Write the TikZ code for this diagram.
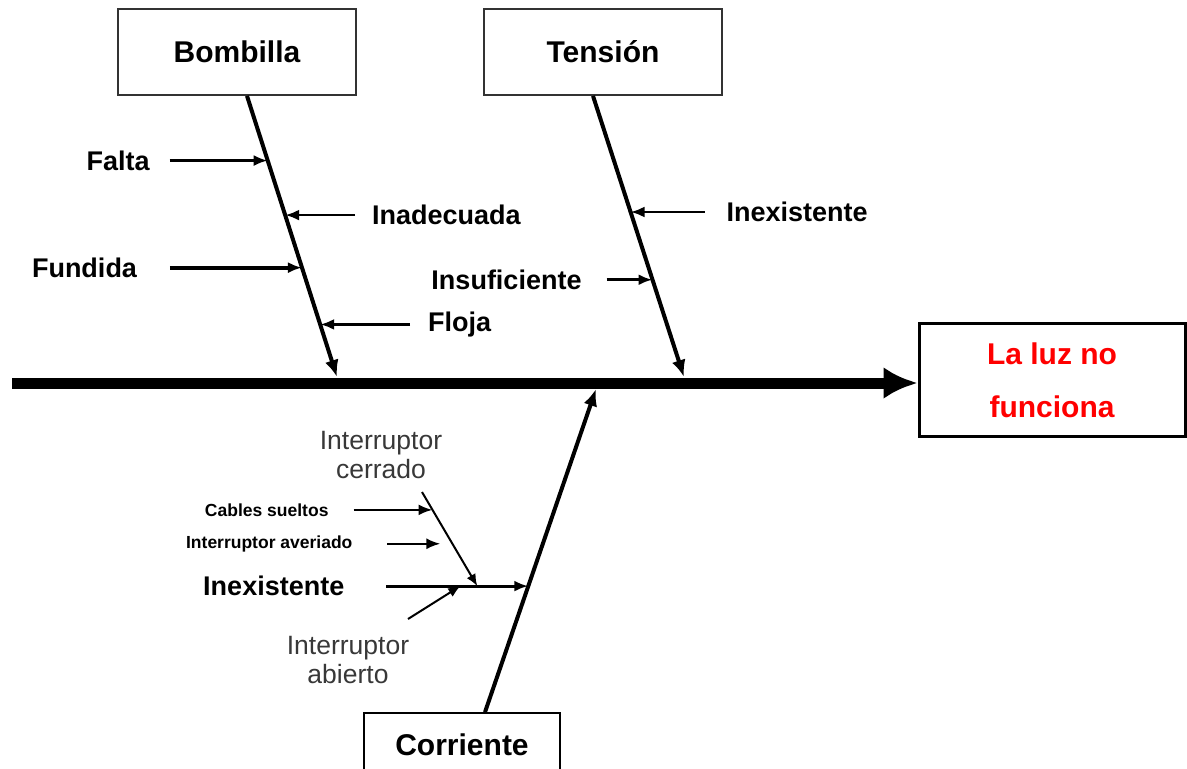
\documentclass[tikz,border=0pt]{standalone}
\usepackage{fontspec}
\setmainfont{Liberation Sans}
\usepackage{tikz}
\usetikzlibrary{arrows.meta,calc,positioning}
\tikzset{
	caja/.style={draw=black!80, line width=1.8pt, minimum width=238pt, minimum height=86pt,
		font=\fontsize{30}{36}\selectfont\bfseries},
	espina/.style={->, line width=11pt, >={Latex[length=34pt,width=32pt]}},
	hueso/.style={->, line width=4pt, >={Latex[length=17pt,width=14pt]}},
	causa/.style={->, line width=3pt, >={Latex[length=14pt,width=11pt]}},
	subcausa/.style={->, line width=2pt, >={Latex[length=12pt,width=10pt]}},
	etiq/.style={font=\fontsize{27}{32}\selectfont\bfseries, inner sep=0pt, outer sep=20pt},
	peque/.style={font=\fontsize{17.5}{20}\selectfont\bfseries, inner sep=0pt, outer sep=25pt},
	nota/.style={font=\fontsize{26.5}{29}\selectfont, text=black!78, align=center, inner sep=0pt},
}
\begin{document}
\begin{tikzpicture}[x=1pt, y=-1pt]
\useasboundingbox (0,0) rectangle (1187,769);
\clip (0,0) rectangle (1187,769);
% the boxes
\node[caja] (bombilla) at (237,52) {Bombilla};
\node[caja] (tension) at (603,52) {Tensión};
\node[caja, draw=black, minimum width=196pt, minimum height=64pt] (corriente) at (462,745) {Corriente};
\node[draw, line width=3pt, minimum width=266pt, minimum height=113pt, align=center,
	text=red, font=\fontsize{30}{53}\selectfont\bfseries] (efecto) at (1052,380) {La luz no\\funciona};

% the spine and the bones
\coordinate (cola) at (12,383);
\draw[espina] (cola) -- (cola -| efecto.west);
\coordinate (b0) at ([xshift=10pt]bombilla.south);
\coordinate (b1) at (337,377);
\coordinate (t0) at ([xshift=-10pt]tension.south);
\coordinate (t1) at (684,377);
\coordinate (c0) at ([xshift=23pt]corriente.north);
\coordinate (c1) at (596,389);
\draw[hueso] (b0) -- (b1);
\draw[hueso] (t0) -- (t1);
\draw[hueso] (c0) -- (c1);

% bombilla
\coordinate (pFalta) at ($(b0)!.23!(b1)$);
\coordinate (pInad) at ($(b0)!.424!(b1)$);
\coordinate (pFund) at ($(b0)!.611!(b1)$);
\coordinate (pFloja) at ($(b0)!.813!(b1)$);
\node[etiq, left=98pt of pFalta] (falta) {Falta};
\node[etiq, right=70pt of pInad, outer sep=17pt] (inad) {Inadecuada};
\node[etiq, left=132pt of pFund, outer sep=33pt] (fund) {Fundida};
\node[etiq, right=90pt of pFloja, outer sep=18pt] (floja) {Floja};
\draw[causa] (falta) -- (pFalta);
\draw[causa, line width=2.6pt] (inad) -- (pInad);
\draw[causa, line width=4pt] (fund) -- (pFund);
\draw[causa] (floja) -- (pFloja);

% tension
\coordinate (pInexT) at ($(t0)!.413!(t1)$);
\coordinate (pInsuf) at ($(t0)!.654!(t1)$);
\node[etiq, right=74pt of pInexT, outer sep=22pt] (inexT) {Inexistente};
\node[etiq, left=46pt of pInsuf, outer sep=25pt] (insuf) {Insuficiente};
\draw[causa, line width=2.6pt] (inexT) -- (pInexT);
\draw[causa] (insuf) -- (pInsuf);

% corriente
\coordinate (pInexC) at ($(c0)!.39!(c1)$);
\node[etiq, left=142pt of pInexC, outer sep=42pt] (inexC) {Inexistente};
\draw[causa] (inexC) -- (pInexC);
\coordinate (kCerr) at ([xshift=-51pt]pInexC);
\coordinate (kAbier) at ([xshift=-68pt]pInexC);
\node[nota] (icerr) at (381,455) {Interruptor\\cerrado};
\node[nota] (iabier) at (348,660) {Interruptor\\abierto};
\coordinate (sCerr) at (422,492);
\coordinate (sAbier) at (408,619);
\draw[subcausa] (sCerr) -- (kCerr);
\draw[subcausa] (sAbier) -- (kAbier);
\coordinate (pCables) at ($(sCerr)!.19!(kCerr)$);
\coordinate (pAver) at ([xshift=-12pt]$(sCerr)!.55!(kCerr)$);
\node[peque, left=79pt of pCables] (cables) {Cables sueltos};
\node[peque, left=53pt of pAver, outer sep=35pt] (aver) {Interruptor averiado};
\draw[causa, line width=2.4pt] (cables) -- (pCables);
\draw[causa, line width=2.4pt] (aver) -- (pAver);
\end{tikzpicture}
\end{document}
